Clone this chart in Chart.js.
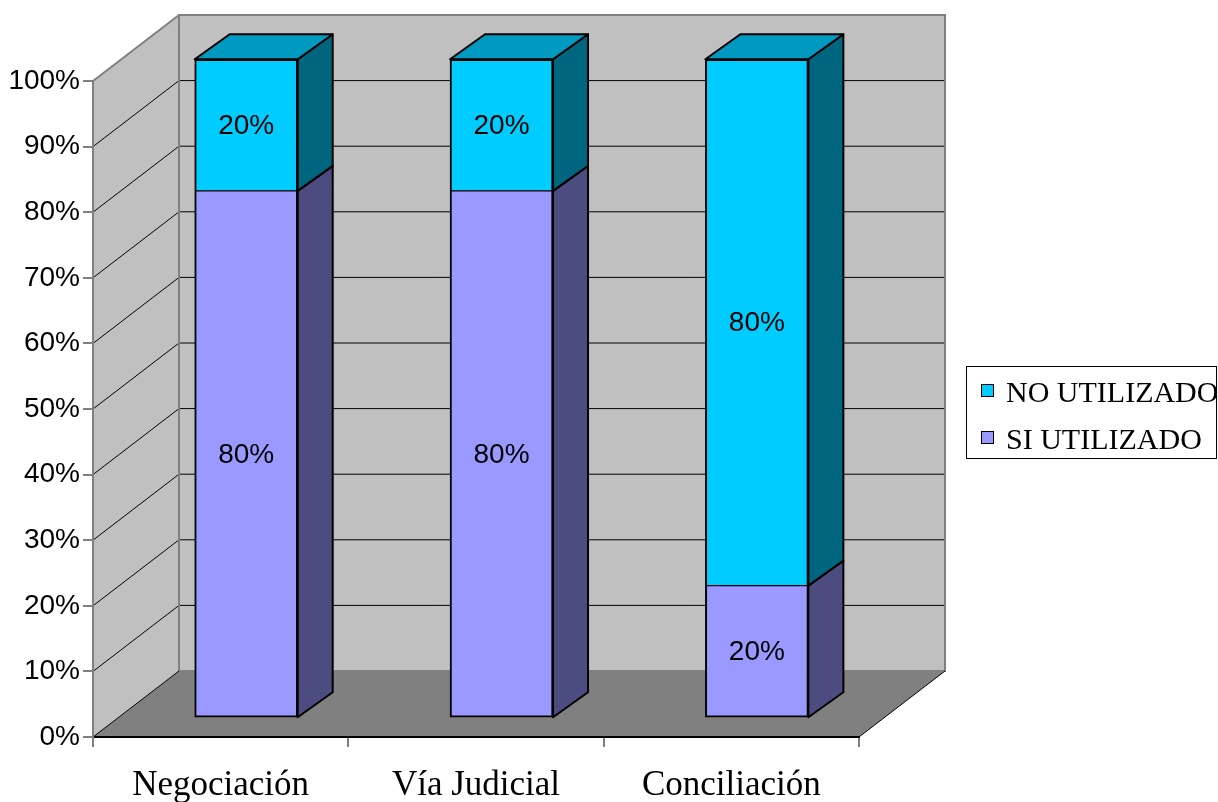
<!DOCTYPE html>
<html>
<head>
<meta charset="utf-8">
<script src="https://cdn.jsdelivr.net/npm/chart.js@4.4.1/dist/chart.umd.min.js"></script>
<style>
html,body{margin:0;padding:0;background:#fff;}
#wrap{width:1218px;height:802px;position:relative;}
canvas{display:block;}
</style>
</head>
<body>
<div id="wrap"><canvas id="c" width="1218" height="802"></canvas></div>
<script>
// ---- data ----
const categories = ['Negociación', 'Vía Judicial', 'Conciliación'];
const seriesNames = ['SI UTILIZADO', 'NO UTILIZADO'];
const siUtilizado = [80, 80, 20];
const noUtilizado = [20, 20, 80];
const yTickStep = 10;
const yMin = 0, yMax = 100;

// ---- style constants ----
const SANS = '"Liberation Sans", Arial, sans-serif';
const SERIF = '"Liberation Serif", "Times New Roman", serif';
const WALL_DX = 86, WALL_DY = 66;   // depth of the 3D box
const BAR_DX = 35, BAR_DY = 25;     // depth of each bar
const colors = {
  si:  {front: '#9999FF', side: '#4C4C80', top: '#7373BF'},
  no:  {front: '#00CCFF', side: '#006680', top: '#0099BF'}
};

function pts(values) { return values.map((v, i) => ({x: i, y: v})); }

const threeD = {
  id: 'threeD',
  beforeDraw(chart) {
    const {ctx, chartArea: a, scales} = chart;
    const y = scales.y;
    const L = a.left, R = a.right, T = a.top, B = a.bottom;
    ctx.save();
    // back wall
    ctx.fillStyle = '#C0C0C0';
    ctx.fillRect(L + WALL_DX, T - WALL_DY, R - L, B - T);
    // left wall
    ctx.beginPath();
    ctx.moveTo(L, T); ctx.lineTo(L + WALL_DX, T - WALL_DY);
    ctx.lineTo(L + WALL_DX, B - WALL_DY); ctx.lineTo(L, B); ctx.closePath();
    ctx.fill();
    // floor
    ctx.fillStyle = '#808080';
    ctx.beginPath();
    ctx.moveTo(L, B); ctx.lineTo(L + WALL_DX, B - WALL_DY);
    ctx.lineTo(R + WALL_DX, B - WALL_DY); ctx.lineTo(R, B); ctx.closePath();
    ctx.fill();
    // grid lines on back and side wall
    ctx.strokeStyle = '#000';
    ctx.lineWidth = 1;
    y.ticks.forEach(t => {
      if (t.value <= yMin || t.value >= yMax) return;
      const py = y.getPixelForValue(t.value);
      ctx.beginPath();
      ctx.moveTo(L + WALL_DX, py - WALL_DY); ctx.lineTo(R + WALL_DX, py - WALL_DY);
      ctx.moveTo(L, py); ctx.lineTo(L + WALL_DX, py - WALL_DY);
      ctx.stroke();
    });
    // outlines
    ctx.strokeStyle = '#808080';
    ctx.lineWidth = 2;
    ctx.strokeRect(L + WALL_DX, T - WALL_DY, R - L, B - T);
    ctx.beginPath();
    ctx.moveTo(L, T); ctx.lineTo(L + WALL_DX, T - WALL_DY);
    ctx.stroke();
    ctx.strokeStyle = '#000';
    ctx.lineWidth = 1;
    ctx.beginPath();
    ctx.moveTo(R, B); ctx.lineTo(R + WALL_DX, B - WALL_DY);
    ctx.moveTo(L, B); ctx.lineTo(L + WALL_DX, B - WALL_DY);
    ctx.stroke();
    ctx.restore();
  },
  afterDatasetsDraw(chart) {
    const {ctx} = chart;
    const n = chart.data.datasets.length;
    ctx.save();
    ctx.lineWidth = 2;
    ctx.lineJoin = 'round';
    ctx.strokeStyle = '#000';
    chart.data.datasets.forEach((ds, di) => {
      const meta = chart.getDatasetMeta(di);
      meta.data.forEach(el => {
        const {x, y, base, width} = el.getProps(['x', 'y', 'base', 'width'], true);
        const l = x - width / 2, r = x + width / 2;
        const top = Math.min(y, base), bot = Math.max(y, base);
        // right side face
        ctx.fillStyle = ds.sideColor;
        ctx.beginPath();
        ctx.moveTo(r, top); ctx.lineTo(r + BAR_DX, top - BAR_DY);
        ctx.lineTo(r + BAR_DX, bot - BAR_DY); ctx.lineTo(r, bot); ctx.closePath();
        ctx.fill(); ctx.stroke();
        // top face on the top segment
        if (di === n - 1) {
          ctx.fillStyle = ds.topColor;
          ctx.beginPath();
          ctx.moveTo(l, top); ctx.lineTo(l + BAR_DX, top - BAR_DY);
          ctx.lineTo(r + BAR_DX, top - BAR_DY); ctx.lineTo(r, top); ctx.closePath();
          ctx.fill(); ctx.stroke();
        }
      });
    });
    // value labels
    ctx.fillStyle = '#000';
    ctx.font = '28px ' + SANS;
    ctx.textAlign = 'center';
    ctx.textBaseline = 'middle';
    chart.data.datasets.forEach((ds, di) => {
      const meta = chart.getDatasetMeta(di);
      meta.data.forEach((el, i) => {
        const {x, y, base} = el.getProps(['x', 'y', 'base'], true);
        ctx.fillText(ds.data[i].y + '%', x, (y + base) / 2 + 1);
      });
    });
    ctx.restore();
  },
  afterDraw(chart) {
    const {ctx} = chart;
    ctx.save();
    // legend box
    ctx.fillStyle = '#fff';
    ctx.fillRect(967, 367, 250, 92);
    ctx.strokeStyle = '#000';
    ctx.lineWidth = 1;
    ctx.strokeRect(966.5, 366.5, 250, 92);
    const items = chart.data.datasets.slice().reverse();
    ctx.font = '30px ' + SERIF;
    ctx.textAlign = 'left';
    ctx.textBaseline = 'alphabetic';
    items.forEach((ds, k) => {
      const yy = 384 + k * 47;
      ctx.fillStyle = ds.backgroundColor;
      ctx.fillRect(981, yy, 12, 12);
      ctx.strokeRect(981.5, yy + 0.5, 12, 12);
      ctx.fillStyle = '#000';
      ctx.fillText(ds.label, 1006, yy + 17.5);
    });
    ctx.restore();
  }
};

const ctx = document.getElementById('c').getContext('2d');
new Chart(ctx, {
  type: 'bar',
  data: {
    labels: categories,
    datasets: [
      {
        label: seriesNames[0],
        data: pts(siUtilizado),
        xAxisID: 'x2', yAxisID: 'y2',
        backgroundColor: colors.si.front,
        sideColor: colors.si.side, topColor: colors.si.top,
        borderColor: '#000',
        borderWidth: {top: 1, bottom: 2, left: 2, right: 2},
        borderSkipped: false,
        barThickness: 103,
        clip: false
      },
      {
        label: seriesNames[1],
        data: pts(noUtilizado),
        xAxisID: 'x2', yAxisID: 'y2',
        backgroundColor: colors.no.front,
        sideColor: colors.no.side, topColor: colors.no.top,
        borderColor: '#000',
        borderWidth: {top: 2, bottom: 1, left: 2, right: 2},
        borderSkipped: false,
        barThickness: 103,
        clip: false
      }
    ]
  },
  options: {
    responsive: false,
    animation: false,
    devicePixelRatio: 1,
    layout: {padding: {top: 81, right: 359, left: 0, bottom: 0}},
    plugins: {legend: {display: false}, tooltip: {enabled: false}},
    scales: {
      x: {
        type: 'category',
        position: 'bottom',
        offset: true,
        min: 0, max: categories.length - 1,
        grid: {offset: true, drawOnChartArea: false, drawTicks: true, tickLength: 10, color: '#808080', lineWidth: 2},
        border: {display: true, color: '#000', width: 2},
        ticks: {color: '#000', font: {family: SERIF, size: 35}, padding: 18, maxRotation: 0, autoSkip: false},
        afterFit(s) { s.height = 65; }
      },
      y: {
        type: 'linear',
        position: 'left',
        min: yMin, max: yMax,
        grid: {drawOnChartArea: false, drawTicks: true, tickLength: 10, color: '#808080', lineWidth: 2},
        border: {display: true, color: '#808080', width: 2},
        ticks: {stepSize: yTickStep, color: '#000', font: {family: SANS, size: 28}, padding: 3,
                callback: v => v + '%'},
        afterFit(s) { s.width = 93; }
      },
      x2: {
        type: 'linear', display: false, offset: false, stacked: true,
        min: -0.6, max: 2.4
      },
      y2: {
        type: 'linear', display: false, stacked: true,
        min: -3, max: 96.7
      }
    }
  },
  plugins: [threeD]
});
</script>
</body>
</html>
